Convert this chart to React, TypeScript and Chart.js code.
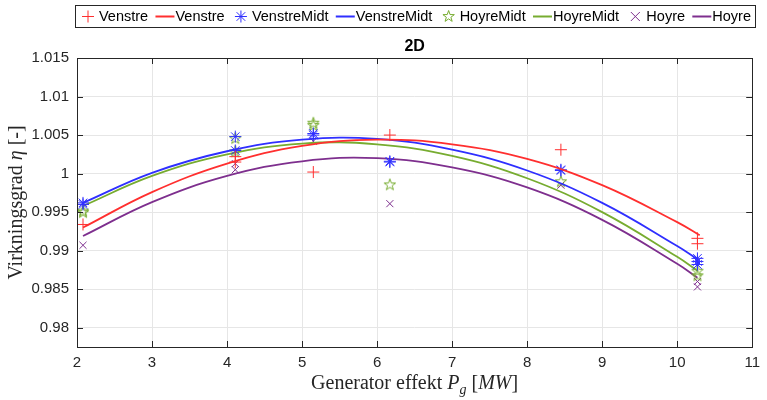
import React, { useEffect, useRef } from "react";
import { Chart, registerables } from "chart.js";

Chart.register(...registerables);

// ---------- data ----------
const xTickValues = [2, 3, 4, 5, 6, 7, 8, 9, 10, 11];
const yTickValues = [0.98, 0.985, 0.99, 0.995, 1, 1.005, 1.01, 1.015];
const yTickLabels = ["0.98", "0.985", "0.99", "0.995", "1", "1.005", "1.01", "1.015"];

const seriesNames = ["Venstre", "VenstreMidt", "HoyreMidt", "Hoyre"];

// measured points (markers)
const venstreX = [2.08, 4.11, 4.11, 5.15, 6.17, 8.45, 10.27, 10.27];
const venstreY = [0.9934, 1.0022, 1.0015, 1.0002, 1.005, 1.0031, 0.9916, 0.9909];

const venstreMidtX = [2.08, 2.08, 4.11, 4.11, 5.15, 5.15, 6.17, 6.17, 8.45, 8.45, 10.27, 10.27, 10.27];
const venstreMidtY = [0.9962, 0.996, 1.0048, 1.003, 1.0052, 1.005, 1.0016, 1.0015, 1.0005, 1.0004, 0.989, 0.9886, 0.9882];

const hoyreMidtX = [2.08, 2.08, 4.11, 4.11, 5.15, 5.15, 6.17, 8.45, 10.27, 10.27];
const hoyreMidtY = [0.9952, 0.995, 1.0046, 1.0029, 1.0066, 1.0063, 0.9986, 0.999, 0.9874, 0.9868];

const hoyreX = [2.08, 4.11, 4.11, 5.15, 6.17, 8.45, 10.27, 10.27];
const hoyreY = [0.9907, 1.0013, 1.0005, 1.0042, 0.9961, 0.9985, 0.986, 0.9853];

// fitted curves
const fitX = [2.08, 3, 4, 5, 6, 7, 8, 9, 10, 10.27];
const fitXVenstre = [2.08, 3, 4, 5, 6, 7, 8, 9, 10, 10.3];
const venstreFit = [0.993, 0.9976, 1.0013, 1.0036, 1.0044, 1.0038, 1.0019, 0.9985, 0.9937, 0.992];
const venstreMidtFit = [0.9962, 1.0001, 1.0029, 1.0044, 1.0045, 1.0031, 1.0004, 0.9962, 0.9906, 0.9889];
const hoyreMidtFit = [0.9958, 0.9997, 1.0025, 1.0039, 1.0038, 1.0023, 0.9994, 0.995, 0.9892, 0.9874];
const hoyreFit = [0.9919, 0.9963, 0.9997, 1.0016, 1.002, 1.0008, 0.9982, 0.994, 0.9883, 0.9865];

// ---------- styles ----------
const RED = "#ff2f2f";
const BLUE = "#2f2fff";
const GREEN = "#77ac30";
const PURPLE = "#7e2f8e";
const AXIS = "#262626";
const GRID = "#e6e6e6";
const SANS = "'Liberation Sans', Arial, Helvetica, sans-serif";
const SERIF = "'Liberation Serif', 'Times New Roman', serif";

const toPts = (xs: number[], ys: number[]) => xs.map((x, i) => ({ x, y: ys[i] }));

function makePentagram(color: string, R: number): HTMLCanvasElement {
  const s = Math.ceil(R * 2 + 4);
  const c = document.createElement("canvas");
  c.width = s;
  c.height = s;
  const ctx = c.getContext("2d")!;
  drawPentagram(ctx, s / 2, s / 2 + 0.5, R, color);
  return c;
}

function drawPentagram(ctx: CanvasRenderingContext2D, cx: number, cy: number, R: number, color: string) {
  const r = R * 0.4;
  ctx.save();
  ctx.strokeStyle = color;
  ctx.lineWidth = 1;
  ctx.beginPath();
  for (let i = 0; i < 10; i++) {
    const a = -Math.PI / 2 + (i * Math.PI) / 5;
    const rad = i % 2 === 0 ? R : r;
    const px = cx + rad * Math.cos(a);
    const py = cy + rad * Math.sin(a);
    if (i === 0) ctx.moveTo(px, py);
    else ctx.lineTo(px, py);
  }
  ctx.closePath();
  ctx.stroke();
  ctx.restore();
}

function drawMarker(ctx: CanvasRenderingContext2D, kind: string, cx: number, cy: number, color: string) {
  ctx.save();
  ctx.strokeStyle = color;
  ctx.lineWidth = 1;
  ctx.beginPath();
  const r = 6;
  if (kind === "plus" || kind === "star") {
    ctx.moveTo(cx - r, cy);
    ctx.lineTo(cx + r, cy);
    ctx.moveTo(cx, cy - r);
    ctx.lineTo(cx, cy + r);
  }
  if (kind === "x" || kind === "star") {
    const d = kind === "star" ? r * 0.72 : 4.5;
    ctx.moveTo(cx - d, cy - d);
    ctx.lineTo(cx + d, cy + d);
    ctx.moveTo(cx - d, cy + d);
    ctx.lineTo(cx + d, cy - d);
  }
  ctx.stroke();
  ctx.restore();
  if (kind === "penta") drawPentagram(ctx, cx, cy, 6, color);
}

type Piece = { t: string; italic?: boolean; sub?: boolean };

function drawPieces(ctx: CanvasRenderingContext2D, pieces: Piece[], cx: number, cy: number, size: number) {
  const fontFor = (p: Piece) =>
    `${p.italic ? "italic " : ""}${p.sub ? Math.round(size * 0.7) : size}px ${SERIF}`;
  let total = 0;
  const widths = pieces.map((p) => {
    ctx.font = fontFor(p);
    const w = ctx.measureText(p.t).width;
    total += w;
    return w;
  });
  let x = cx - total / 2;
  ctx.textBaseline = "middle";
  ctx.textAlign = "left";
  pieces.forEach((p, i) => {
    ctx.font = fontFor(p);
    ctx.fillText(p.t, x, p.sub ? cy + size * 0.3 : cy);
    x += widths[i];
  });
}

const decorPlugin = {
  id: "decor",
  afterDraw(chart: any) {
    const ctx: CanvasRenderingContext2D = chart.ctx;
    const { left, right, top, bottom } = chart.chartArea;
    const xs = chart.scales.x;
    const ys = chart.scales.y;
    ctx.save();
    // frame
    ctx.strokeStyle = AXIS;
    ctx.lineWidth = 1;
    ctx.strokeRect(Math.round(left) + 0.5, Math.round(top) + 0.5, Math.round(right - left), Math.round(bottom - top));
    // inward ticks
    const tl = 6;
    ctx.beginPath();
    xTickValues.forEach((v) => {
      const px = Math.round(xs.getPixelForValue(v)) + 0.5;
      ctx.moveTo(px, bottom);
      ctx.lineTo(px, bottom - tl);
      ctx.moveTo(px, top);
      ctx.lineTo(px, top + tl);
    });
    yTickValues.forEach((v) => {
      const py = Math.round(ys.getPixelForValue(v)) + 0.5;
      ctx.moveTo(left, py);
      ctx.lineTo(left + tl, py);
      ctx.moveTo(right, py);
      ctx.lineTo(right - tl, py);
    });
    ctx.stroke();

    // title
    ctx.fillStyle = "#000";
    ctx.font = `bold 16px ${SANS}`;
    ctx.textAlign = "center";
    ctx.textBaseline = "middle";
    ctx.fillText("2D", (left + right) / 2, 47);

    // axis titles
    ctx.fillStyle = AXIS;
    drawPieces(
      ctx,
      [
        { t: "Generator effekt " },
        { t: "P", italic: true },
        { t: "g", italic: true, sub: true },
        { t: " [" },
        { t: "MW", italic: true },
        { t: "]" },
      ],
      (left + right) / 2,
      384,
      20
    );
    ctx.save();
    ctx.translate(17, (top + bottom) / 2);
    ctx.rotate(-Math.PI / 2);
    drawPieces(ctx, [{ t: "Virkningsgrad " }, { t: "η", italic: true }, { t: " [-]" }], 0, 0, 20);
    ctx.restore();

    // legend
    const boxL = 75, boxR = 755, boxT = 5, boxB = 27;
    ctx.fillStyle = "#fff";
    ctx.fillRect(boxL, boxT, boxR - boxL, boxB - boxT);
    ctx.strokeStyle = AXIS;
    ctx.strokeRect(boxL + 0.5, boxT + 0.5, boxR - boxL, boxB - boxT);
    const colors = [RED, BLUE, GREEN, PURPLE];
    const markers = ["plus", "star", "penta", "x"];
    const entries: { kind: string; color: string; label: string }[] = [];
    seriesNames.forEach((n, i) => {
      entries.push({ kind: markers[i], color: colors[i], label: n });
      entries.push({ kind: "line", color: colors[i], label: n });
    });
    ctx.font = `14.5px ${SANS}`;
    const iconW = 20;
    const markerW = 20;
    let textTotal = 0;
    const tw = entries.map((e) => {
      const w = ctx.measureText(e.label).width;
      textTotal += w;
      return w;
    });
    const iconTotal = entries.reduce((s, e) => s + (e.kind === "line" ? iconW : markerW), 0);
    const pad = 4;
    const gap = (boxR - boxL - 2 * pad - iconTotal - textTotal) / (entries.length - 1);
    let x = boxL + pad;
    const cy = (boxT + boxB) / 2 + 0.5;
    ctx.textAlign = "left";
    ctx.textBaseline = "middle";
    entries.forEach((e, i) => {
      if (e.kind === "line") {
        ctx.save();
        ctx.strokeStyle = e.color;
        ctx.lineWidth = 2;
        ctx.beginPath();
        ctx.moveTo(x, cy);
        ctx.lineTo(x + iconW - 1, cy);
        ctx.stroke();
        ctx.restore();
        x += iconW;
      } else {
        drawMarker(ctx, e.kind, x + markerW / 2 - 1, cy, e.color);
        x += markerW;
      }
      ctx.fillStyle = "#000";
      ctx.font = `14.5px ${SANS}`;
      ctx.fillText(e.label, x, cy);
      x += tw[i] + gap;
    });
    ctx.restore();
  },
};

export default function App() {
  const ref = useRef<HTMLCanvasElement | null>(null);

  useEffect(() => {
    document.body.style.margin = "0";
    const canvas = ref.current;
    if (!canvas) return;
    const penta = makePentagram(GREEN, 6);

    const markerDs = (label: string, xs: number[], ys: number[], color: string, style: any, radius: number) => ({
      label,
      data: toPts(xs, ys),
      showLine: false,
      pointStyle: style,
      pointRadius: radius,
      pointHoverRadius: radius,
      pointBorderColor: color,
      pointBackgroundColor: "rgba(0,0,0,0)",
      pointBorderWidth: 1,
      borderColor: color,
      backgroundColor: "rgba(0,0,0,0)",
    });
    const lineDs = (label: string, xs: number[], ys: number[], color: string) => ({
      label,
      data: toPts(xs, ys),
      showLine: true,
      pointRadius: 0,
      borderColor: color,
      backgroundColor: color,
      borderWidth: 1.8,
      tension: 0.4,
      fill: false,
    });

    const chart = new Chart(canvas, {
      type: "scatter",
      data: {
        datasets: [
          markerDs(seriesNames[0], venstreX, venstreY, RED, "cross", 6),
          lineDs(seriesNames[0], fitXVenstre, venstreFit, RED),
          markerDs(seriesNames[1], venstreMidtX, venstreMidtY, BLUE, "star", 6),
          lineDs(seriesNames[1], fitX, venstreMidtFit, BLUE),
          markerDs(seriesNames[2], hoyreMidtX, hoyreMidtY, GREEN, penta, 6),
          lineDs(seriesNames[2], fitX, hoyreMidtFit, GREEN),
          markerDs(seriesNames[3], hoyreX, hoyreY, PURPLE, "crossRot", 5),
          lineDs(seriesNames[3], fitX, hoyreFit, PURPLE),
        ] as any,
      },
      options: {
        animation: false,
        responsive: true,
        maintainAspectRatio: false,
        layout: { padding: { top: 58, right: 12, left: 0, bottom: 0 } },
        plugins: {
          legend: { display: false },
          title: { display: false },
          tooltip: { enabled: false },
        },
        scales: {
          x: {
            type: "linear",
            min: 2,
            max: 11,
            afterBuildTicks: (scale: any) => {
              scale.ticks = xTickValues.map((v) => ({ value: v }));
            },
            afterFit: (scale: any) => {
              scale.height = 53;
            },
            grid: { color: GRID, drawTicks: false, lineWidth: 1 },
            border: { display: false },
            ticks: {
              padding: 7,
              color: AXIS,
              font: { family: SANS, size: 15 },
              maxRotation: 0,
              callback: (v: any) => String(v),
            },
          },
          y: {
            type: "linear",
            min: 0.9775,
            max: 1.015,
            afterBuildTicks: (scale: any) => {
              scale.ticks = yTickValues.map((v) => ({ value: v }));
            },
            afterFit: (scale: any) => {
              scale.width = 77;
            },
            grid: { color: GRID, drawTicks: false, lineWidth: 1 },
            border: { display: false },
            ticks: {
              padding: 8,
              color: AXIS,
              font: { family: SANS, size: 15 },
              callback: (v: any) => {
                const i = yTickValues.findIndex((t) => Math.abs(t - Number(v)) < 1e-9);
                return i >= 0 ? yTickLabels[i] : "";
              },
            },
          },
        },
      },
      plugins: [decorPlugin],
    });
    return () => chart.destroy();
  }, []);

  return (
    <div style={{ position: "relative", width: 767, height: 400, background: "#fff" }}>
      <canvas ref={ref} />
    </div>
  );
}
